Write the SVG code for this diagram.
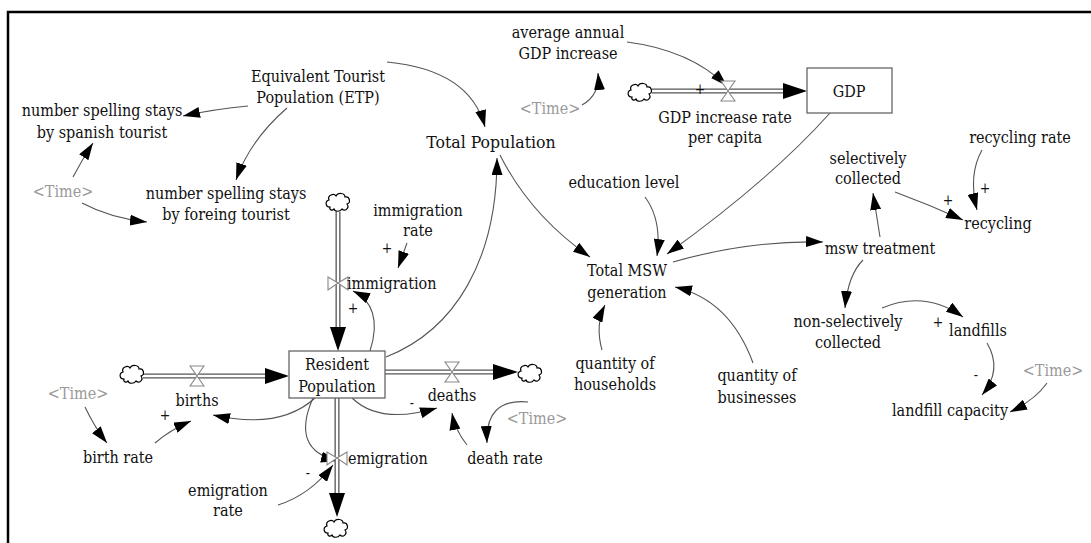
<svg xmlns="http://www.w3.org/2000/svg" width="1091" height="543" viewBox="0 0 1091 543">
<defs>
<style>
text{font-family:'DejaVu Serif Condensed','DejaVu Serif',serif;font-size:16px;fill:#111;text-anchor:middle}
text.time{fill:#9a9a9a}
text.sign{font-size:14px}
text.left{text-anchor:start}
.link{fill:none;stroke:#555;stroke-width:1.1}
.pipeo{fill:none;stroke:#555;stroke-width:5}
.pipei{fill:none;stroke:#fff;stroke-width:2.4}
.head{fill:#000}
.valve{fill:#fff;stroke:#888;stroke-width:1.1}
.box{fill:#fff;stroke:#666;stroke-width:1.3}
.cloud{fill:#fff;stroke:#000;stroke-width:1.2}
.frame{stroke:#000;stroke-width:2.5;fill:none}
</style>
<marker id="ah" markerUnits="userSpaceOnUse" markerWidth="18" markerHeight="11" refX="17" refY="5.5" orient="auto">
<path d="M0,0 L17,5.5 L0,11 Z" fill="#000"/>
</marker>
<path id="cl" class="cloud" d="M-8,5 C-13,5 -13,-1 -9,-2 C-11,-7 -4,-9 -2,-6 C0,-10 7,-9 7,-5 C12,-6 13,1 9,2 C12,6 7,10 4,7 C2,10 -3,10 -4,7 C-6,9 -9,8 -8,5 Z"/>
</defs>
<rect width="1091" height="543" fill="#fff"/>
<path class="frame" d="M8,543 L8,12 L1091,12"/>

<g id="connectors">
<path class="link" marker-end="url(#ah)" d="M248,106 Q215,109 183,116"/>
<path class="link" marker-end="url(#ah)" d="M287,108 Q250,140 236,180"/>
<path class="link" marker-end="url(#ah)" d="M73,177 Q82,160 93,143"/>
<path class="link" marker-end="url(#ah)" d="M82,203 Q110,218 147,222"/>
<path class="link" marker-end="url(#ah)" d="M387,62 Q470,70 485,127"/>
<path class="link" marker-end="url(#ah)" d="M582,105 Q600,95 598,73"/>
<path class="link" marker-end="url(#ah)" d="M627,42 Q690,50 727,86"/>
<path class="link" marker-end="url(#ah)" d="M386,357 C455,330 497,260 497,158"/>
<path class="link" marker-end="url(#ah)" d="M500,155 Q530,215 590,257"/>
<path class="link" marker-end="url(#ah)" d="M645,197 Q662,220 657,256"/>
<path class="link" marker-end="url(#ah)" d="M830,113 Q770,180 667,254"/>
<path class="link" marker-end="url(#ah)" d="M673,262 Q750,240 823,242"/>
<path class="link" marker-end="url(#ah)" d="M602,350 Q595,325 605,305"/>
<path class="link" marker-end="url(#ah)" d="M753,363 Q730,300 675,287"/>
<path class="link" marker-end="url(#ah)" d="M880,237 L873,193"/>
<path class="link" marker-end="url(#ah)" d="M895,192 Q930,205 963,220"/>
<path class="link" marker-end="url(#ah)" d="M982,150 Q968,175 977,210"/>
<path class="link" marker-end="url(#ah)" d="M863,260 Q848,275 845,308"/>
<path class="link" marker-end="url(#ah)" d="M882,308 Q925,290 963,317"/>
<path class="link" marker-end="url(#ah)" d="M987,343 Q1003,370 982,395"/>
<path class="link" marker-end="url(#ah)" d="M1047,383 Q1035,400 1010,412"/>
<path class="link" marker-end="url(#ah)" d="M407,243 L398,268"/>
<path class="link" marker-end="url(#ah)" d="M370,351 C380,320 372,300 353,291"/>
<path class="link" marker-end="url(#ah)" d="M85,407 Q95,428 107,443"/>
<path class="link" marker-end="url(#ah)" d="M155,443 Q170,430 191,421"/>
<path class="link" marker-end="url(#ah)" d="M315,398 Q280,430 213,415"/>
<path class="link" marker-end="url(#ah)" d="M313,398 Q290,450 338,461"/>
<path class="link" marker-end="url(#ah)" d="M278,505 Q310,495 333,465"/>
<path class="link" marker-end="url(#ah)" d="M352,398 Q380,425 437,408"/>
<path class="link" marker-end="url(#ah)" d="M528,402 Q485,398 487,443"/>
<path class="link" marker-end="url(#ah)" d="M467,445 Q455,430 452,413"/>
<!-- pipes -->
<path class="pipeo" d="M652,91 L790,91"/>
<path class="pipei" d="M652,91 L784,91"/>
<polygon class="head" points="783,83 807,91 783,99"/>
<path class="pipeo" d="M143,376 L272,376"/>
<path class="pipei" d="M143,376 L266,376"/>
<polygon class="head" points="265,368 289,376 265,384"/>
<path class="pipeo" d="M385,372 L500,372"/>
<path class="pipei" d="M385,372 L494,372"/>
<polygon class="head" points="493,364 518,372 493,380"/>
<path class="pipeo" d="M338,212 L338,334"/>
<path class="pipei" d="M338,212 L338,328"/>
<polygon class="head" points="330,327 338,351 346,327"/>
<path class="pipeo" d="M337,398 L337,500"/>
<path class="pipei" d="M337,398 L337,494"/>
<polygon class="head" points="329,493 337,517 345,493"/>
<use href="#cl" x="640" y="92"/>
<use href="#cl" x="132" y="374"/>
<use href="#cl" x="530" y="373"/>
<use href="#cl" x="338" y="202"/>
<use href="#cl" x="336" y="528"/>
</g>

<g id="etp"><text x="318" y="82">Equivalent Tourist</text><text x="318" y="103">Population (ETP)</text></g>
<g id="spanish"><text x="102" y="116">number spelling stays</text><text x="102" y="138">by spanish tourist</text></g>
<g id="time1"><text class="time" x="63" y="197">&lt;Time&gt;</text></g>
<g id="foreing"><text x="226" y="199">number spelling stays</text><text x="226" y="220">by foreing tourist</text></g>
<g id="totalpop"><text x="491" y="148" style="font-size:17.5px">Total Population</text></g>
<g id="avggdp"><text x="568" y="38">average annual</text><text x="568" y="59">GDP increase</text></g>
<g id="time2"><text class="time" x="550" y="114">&lt;Time&gt;</text></g>
<g id="gdprate"><polygon class="valve" points="721,81 735,81 728,91 735,101 721,101 728,91"/><text x="725" y="123">GDP increase rate</text><text x="725" y="143">per capita</text><text class="sign" x="700" y="94">+</text></g>
<g id="gdp"><rect class="box" x="807" y="68" width="85" height="45"/><text x="849" y="97">GDP</text></g>
<g id="recrate"><text x="1020" y="143">recycling rate</text></g>
<g id="selcol"><text x="868" y="164">selectively</text><text x="868" y="184">collected</text></g>
<g id="recycling"><text x="998" y="229">recycling</text><text class="sign" x="948" y="205">+</text><text class="sign" x="985" y="193">+</text></g>
<g id="edu"><text x="624" y="188">education level</text></g>
<g id="msw"><text x="627" y="276">Total MSW</text><text x="627" y="298">generation</text></g>
<g id="treat"><text x="880" y="254">msw treatment</text></g>
<g id="nonsel"><text x="848" y="327">non-selectively</text><text x="848" y="348">collected</text></g>
<g id="landfills"><text x="978" y="336">landfills</text><text class="sign" x="938" y="327">+</text></g>
<g id="time3"><text class="time" x="1053" y="376">&lt;Time&gt;</text></g>
<g id="capacity"><text x="950" y="416">landfill capacity</text><text class="sign" x="976" y="380">-</text></g>
<g id="households"><text x="615" y="369">quantity of</text><text x="615" y="390">households</text></g>
<g id="businesses"><text x="757" y="381">quantity of</text><text x="757" y="403">businesses</text></g>
<g id="immrate"><text x="418" y="216">immigration</text><text x="418" y="236">rate</text><text class="sign" x="387" y="253">+</text></g>
<g id="immigration"><polygon class="valve" points="328,277 328,290 338,283 348,277 348,290 338,283"/><text class="left" x="347" y="289">immigration</text><text class="sign" x="353" y="313">+</text></g>
<g id="resident"><rect class="box" x="289" y="351" width="96" height="47"/><text x="337" y="370">Resident</text><text x="337" y="392">Population</text></g>
<g id="births"><polygon class="valve" points="190,366 204,366 197,376 204,386 190,386 197,376"/><text x="197" y="406">births</text><text class="sign" x="165" y="420">+</text></g>
<g id="time4"><text class="time" x="78" y="399">&lt;Time&gt;</text></g>
<g id="birthrate"><text x="118" y="463">birth rate</text></g>
<g id="deaths"><polygon class="valve" points="445,362 459,362 452,372 459,382 445,382 452,372"/><text x="452" y="401">deaths</text><text class="sign" x="412" y="408">-</text></g>
<g id="time5"><text class="time" x="537" y="424">&lt;Time&gt;</text></g>
<g id="deathrate"><text x="505" y="464">death rate</text></g>
<g id="emigration"><polygon class="valve" points="327,452 327,465 337,458 347,452 347,465 337,458"/><text class="left" x="348" y="464">emigration</text><text class="sign" x="308" y="478">-</text></g>
<g id="emrate"><text x="228" y="496">emigration</text><text x="228" y="516">rate</text></g>
</svg>
